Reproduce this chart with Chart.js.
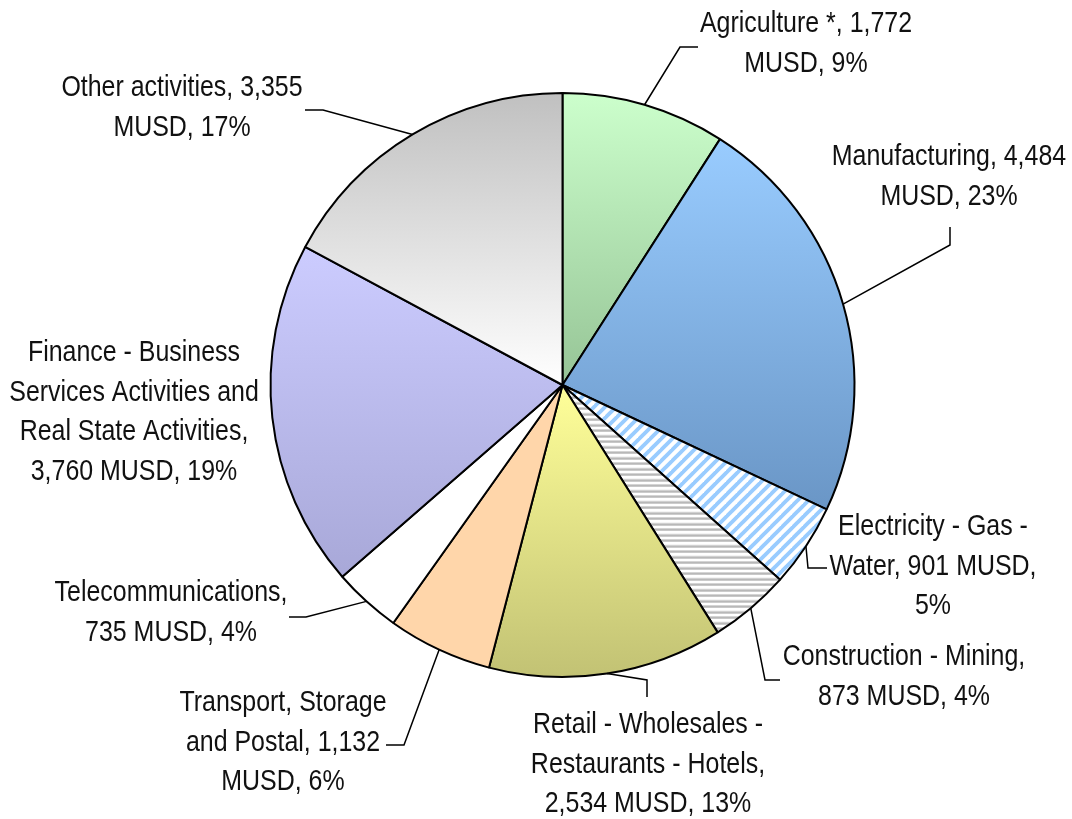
<!DOCTYPE html>
<html>
<head>
<meta charset="utf-8">
<script src="https://cdn.jsdelivr.net/npm/chart.js@4.4.1/dist/chart.umd.min.js"></script>
<style>
  body { margin: 0; background: #fff; }
  #wrap { width: 1072px; height: 819px; }
</style>
</head>
<body>
<div id="wrap"><canvas id="gdpChart" width="1072" height="819"></canvas></div>
<script>
// data (MUSD)
const categories = [
    'Agriculture *',
    'Manufacturing',
    'Electricity - Gas - Water',
    'Construction - Mining',
    'Retail - Wholesales - Restaurants - Hotels',
    'Transport, Storage and Postal',
    'Telecommunications',
    'Finance - Business Services Activities and Real State Activities',
    'Other activities'
];
const valuesMUSD = [1772, 4484, 901, 873, 2534, 1132, 735, 3760, 3355];
const percents = [9, 23, 5, 4, 13, 6, 4, 19, 17];

// slice fills: vertical gradients, stripes or plain colours
const fills = [
    { grad: ['#ccffcc', '#96c496'] },
    { grad: ['#99ccff', '#6a96c6'] },
    { stripe: 'diag' },
    { stripe: 'horiz' },
    { grad: ['#ffff99', '#c2c274'] },
    { solid: '#ffd6aa' },
    { solid: '#ffffff' },
    { grad: ['#ccccff', '#a8a8d8'] },
    { grad: ['#c0c0c0', '#ffffff'] }
];

// label layout: centre x, first line y, wrap width, leader elbow + end
const labelLayout = [
    { x: 806, y: 24, w: 222, leader: [[680, 47], [698, 47]] },
    { x: 949, y: 157, w: 245, leader: [[950, 245], [950, 227]] },
    { x: 933, y: 527, w: 212, leader: [[808, 568], [827, 568]] },
    { x: 904, y: 657, w: 245, leader: [[765, 680], [780, 680]] },
    { x: 648, y: 725, w: 250, leader: [[647, 680], [647, 697]] },
    { x: 283, y: 703, w: 222, leader: [[404, 745], [386, 745]] },
    { x: 171, y: 593, w: 236, leader: [[306, 617], [289, 617]] },
    { x: 134, y: 353, w: 254, leader: null },
    { x: 182, y: 88, w: 245, leader: [[323, 110], [305, 110]] }
];

const PIE_RADIUS = 292;
const LINE_H = 39.5;
const FONT = '29px "Liberation Sans", Arial, sans-serif';
const NARROW = 0.86;   // squeeze Liberation Sans to look like Arial Narrow

let diagPattern = null;
let horizPattern = null;

function makePatterns(ctx) {
    const s = 11;
    const d = document.createElement('canvas');
    d.width = s; d.height = s;
    const dc = d.getContext('2d');
    dc.fillStyle = '#ffffff';
    dc.fillRect(0, 0, s, s);
    dc.strokeStyle = '#99ccff';
    dc.lineWidth = 3.8;
    [0, s, 2 * s].forEach(c => {
        dc.beginPath();
        dc.moveTo(c + 2, -2);
        dc.lineTo(-2, c + 2);
        dc.stroke();
    });
    diagPattern = ctx.createPattern(d, 'repeat');

    const h = document.createElement('canvas');
    h.width = 4; h.height = 11;
    const hc = h.getContext('2d');
    ['#d4d4d4', '#b8b8b8', '#c8c8c8', '#ffffff', '#ffffff', '#f4f4f4',
     '#d0d0d0', '#b8b8b8', '#cccccc', '#ffffff', '#ffffff'].forEach((col, r) => {
        hc.fillStyle = col;
        hc.fillRect(0, r, 4, 1);
    });
    horizPattern = ctx.createPattern(h, 'repeat');
}

function sliceFill(context) {
    const chart = context.chart;
    const i = context.dataIndex;
    const f = fills[i];
    if (f.solid) return f.solid;
    if (!diagPattern) makePatterns(chart.ctx);
    if (f.stripe === 'diag') return diagPattern;
    if (f.stripe === 'horiz') return horizPattern;

    const area = chart.chartArea;
    if (!area) return f.grad[0];
    const cy = (area.top + area.bottom) / 2;
    const total = valuesMUSD.reduce((a, b) => a + b, 0);
    const before = valuesMUSD.slice(0, i).reduce((a, b) => a + b, 0);
    const a0 = -Math.PI / 2 + 2 * Math.PI * before / total;
    const a1 = a0 + 2 * Math.PI * valuesMUSD[i] / total;
    let minY = cy, maxY = cy;
    for (let k = 0; k <= 60; k++) {
        const y = cy + PIE_RADIUS * Math.sin(a0 + (a1 - a0) * k / 60);
        minY = Math.min(minY, y);
        maxY = Math.max(maxY, y);
    }
    const g = chart.ctx.createLinearGradient(0, minY, 0, maxY);
    g.addColorStop(0, f.grad[0]);
    g.addColorStop(1, f.grad[1]);
    return g;
}

function wrapText(ctx, text, maxWidth) {
    const words = text.split(' ');
    const lines = [];
    let line = '';
    words.forEach(w => {
        const test = line ? line + ' ' + w : w;
        if (line && ctx.measureText(test).width * NARROW > maxWidth) {
            lines.push(line);
            line = w;
        } else {
            line = test;
        }
    });
    if (line) lines.push(line);
    return lines;
}

// leader lines + data labels
const labelPlugin = {
    id: 'sliceLabels',
    afterDatasetsDraw(chart) {
        const ctx = chart.ctx;
        const arcs = chart.getDatasetMeta(0).data;
        ctx.save();
        ctx.strokeStyle = '#000';
        ctx.lineWidth = 1.5;
        arcs.forEach((arc, i) => {
            const lay = labelLayout[i];
            if (!lay.leader) return;
            const mid = (arc.startAngle + arc.endAngle) / 2;
            const sx = arc.x + arc.outerRadius * Math.cos(mid);
            const sy = arc.y + arc.outerRadius * Math.sin(mid);
            ctx.beginPath();
            ctx.moveTo(sx, sy);
            lay.leader.forEach(p => ctx.lineTo(p[0], p[1]));
            ctx.stroke();
        });

        ctx.font = FONT;
        ctx.fillStyle = '#111';
        ctx.textAlign = 'center';
        ctx.textBaseline = 'middle';
        categories.forEach((cat, i) => {
            const lay = labelLayout[i];
            const text = `${cat}, ${valuesMUSD[i].toLocaleString('en-US')} MUSD, ${percents[i]}%`;
            const lines = wrapText(ctx, text, lay.w);
            lines.forEach((ln, k) => {
                ctx.save();
                ctx.translate(lay.x, lay.y + k * LINE_H);
                ctx.scale(NARROW, 1);
                ctx.fillText(ln, 0, 0);
                ctx.restore();
            });
        });
        ctx.restore();
    }
};

const chart = new Chart(document.getElementById('gdpChart'), {
    type: 'pie',
    data: {
        labels: categories,
        datasets: [{
            data: valuesMUSD,
            backgroundColor: sliceFill,
            borderColor: '#000',
            borderWidth: 2
        }]
    },
    options: {
        responsive: false,
        animation: false,
        radius: PIE_RADIUS,
        layout: { padding: { top: 93, bottom: 142, left: 270, right: 217 } },
        plugins: {
            legend: { display: false },
            tooltip: { enabled: false }
        }
    },
    plugins: [labelPlugin]
});
</script>
</body>
</html>
